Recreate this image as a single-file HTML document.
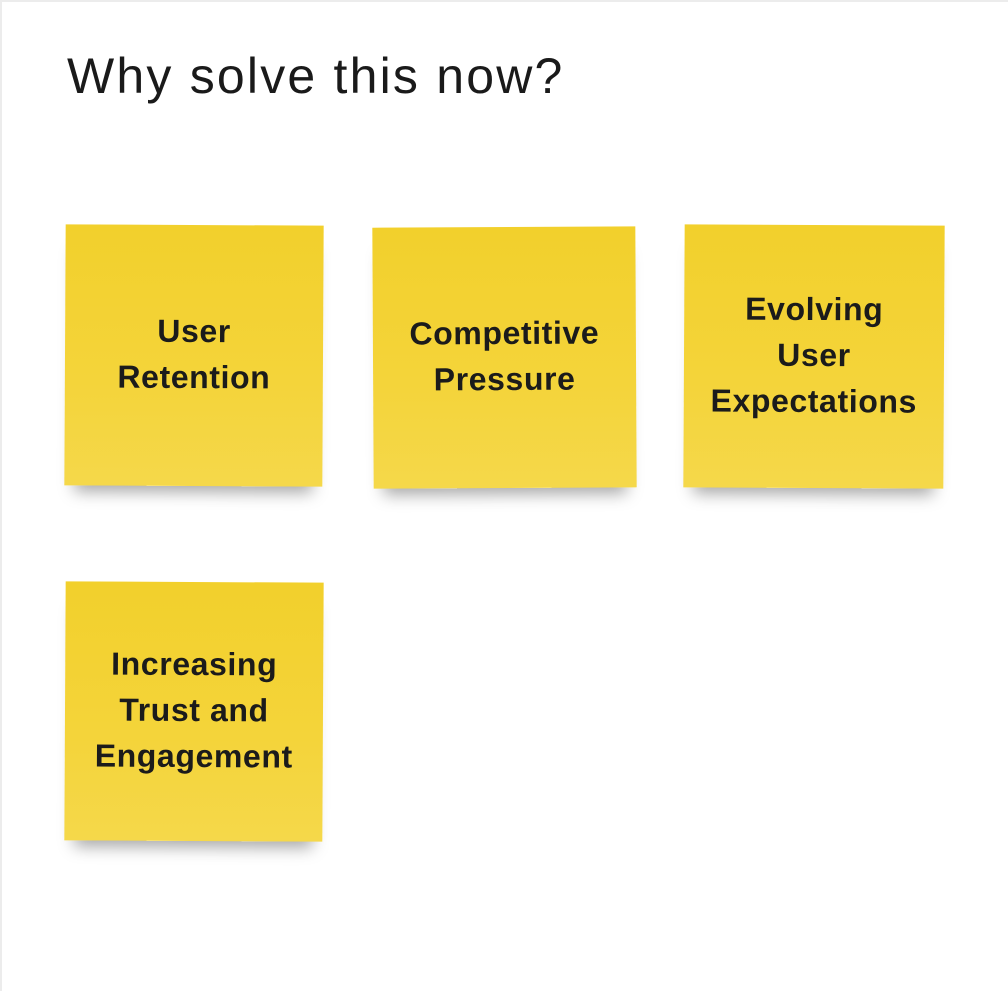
<!DOCTYPE html>
<html><head><style>
html,body{margin:0;padding:0;background:#fff;}
.frame{position:absolute;left:0;top:0;border-left:2px solid #ececec;border-top:2px solid #ececec;box-sizing:border-box;width:1008px;height:991px;}
.title{position:absolute;left:67px;top:46px;font-family:"Liberation Sans",sans-serif;font-size:50px;color:#1a1a1a;line-height:60px;letter-spacing:2.2px;}
.s{position:absolute;background:linear-gradient(180deg,#f2d02c 0%,#f4d43a 60%,#f5d84a 100%);display:flex;align-items:center;justify-content:center;text-align:center;font-family:"Liberation Sans",sans-serif;font-weight:bold;font-size:32px;line-height:46px;letter-spacing:0.6px;color:#1b1b1b;box-shadow:0 16px 16px -10px rgba(0,0,0,0.35);padding-bottom:4px;box-sizing:border-box;}
</style></head><body>
<div class="frame"></div>
<div class="title">Why solve this now?</div>
<div class="s" style="left:65px;top:225px;width:258px;height:261px;transform:rotate(0.3deg)">User<br>Retention</div>
<div class="s" style="left:373px;top:227px;width:263px;height:261px;transform:rotate(-0.3deg)">Competitive<br>Pressure</div>
<div class="s" style="left:684px;top:225px;width:260px;height:263px;transform:rotate(0.3deg)">Evolving<br>User<br>Expectations</div>
<div class="s" style="left:65px;top:582px;width:258px;height:259px;transform:rotate(0.3deg)">Increasing<br>Trust and<br>Engagement</div>
</body></html>
